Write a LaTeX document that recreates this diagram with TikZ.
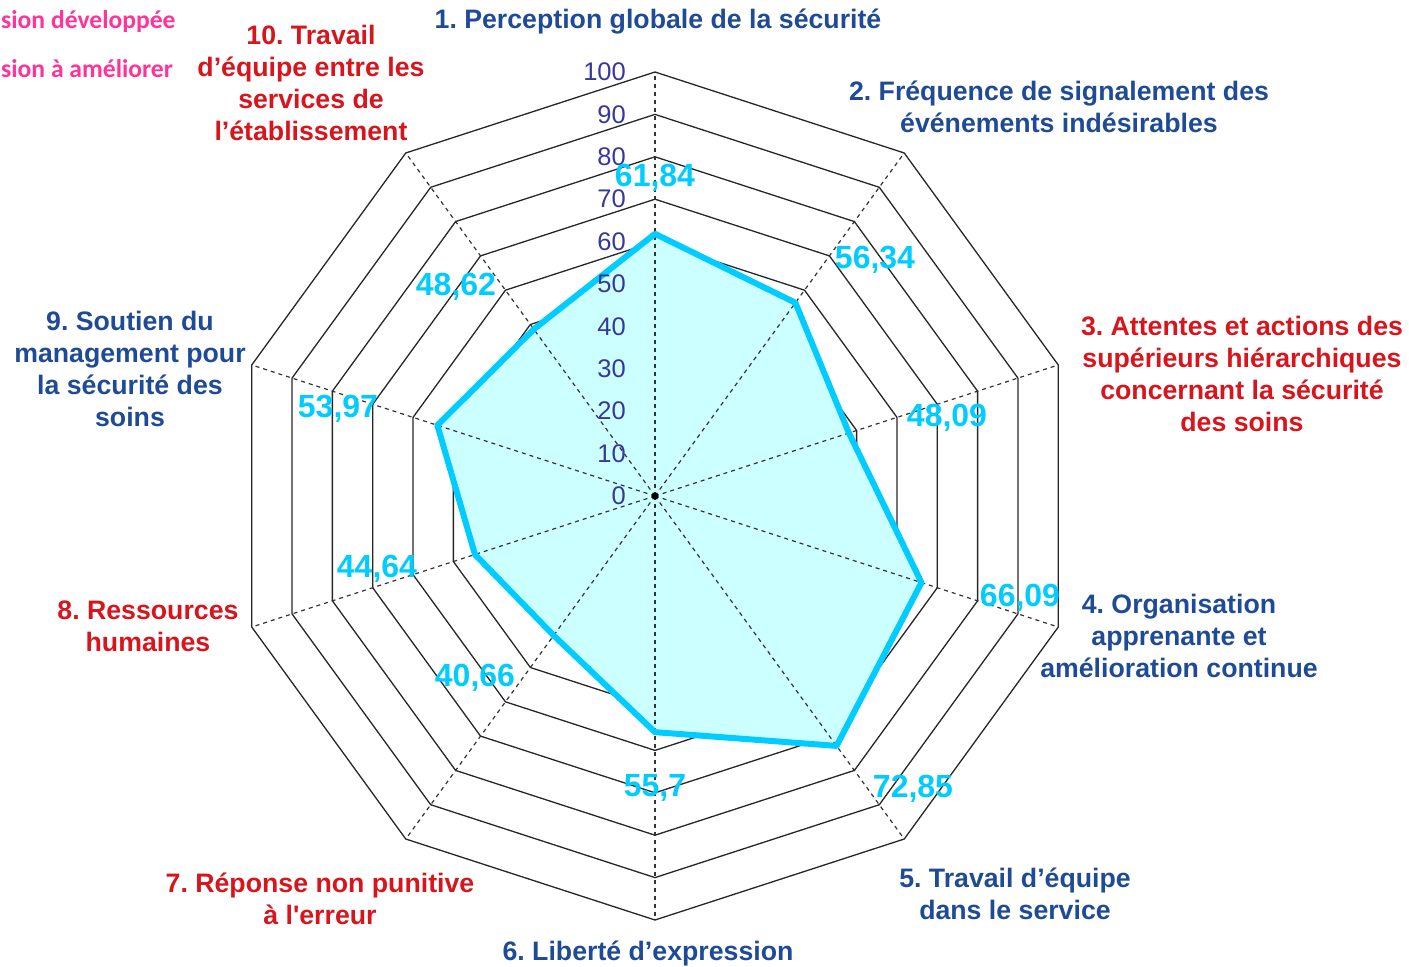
\documentclass[tikz,border=0pt]{standalone}
\usepackage{fontspec}
\setmainfont{Liberation Sans}
\newfontfamily\legendfont{Carlito}
\definecolor{dimblue}{HTML}{1F4B96}
\definecolor{dimred}{HTML}{D8141C}
\definecolor{scorecyan}{HTML}{00CCFF}
\definecolor{scorefill}{HTML}{CCFFFF}
\definecolor{tickblue}{HTML}{38389A}
\definecolor{legendpink}{HTML}{FF3399}
\frenchspacing

\begin{document}
\begin{tikzpicture}[x=1pt,y=1pt,
    ring/.style={draw=black!85,line width=1.3},
    spoke/.style={draw=black!80,line width=1.2,dash pattern=on 4pt off 4pt},
    scoreline/.style={draw=scorecyan,line width=6,line join=round},
    tick/.style={anchor=east,inner sep=0,text=tickblue,font=\fontsize{25.5}{28}\selectfont},
    score/.style={inner sep=0,text=scorecyan,font=\fontsize{32}{36}\selectfont\bfseries},
    dim/.style={inner sep=0,align=center,font=\fontsize{26.7}{32}\selectfont\bfseries},
    legend/.style={anchor=west,inner sep=0,text=legendpink,font=\fontsize{25.6}{30}\legendfont\bfseries}]

  \useasboundingbox (-655,-471) rectangle (754,496);

  \coordinate (c) at (0,0);

  % rings every 10
  \foreach \r in {10,20,...,100}
    \draw[ring] (90:\r*4.24) \foreach \a in {54,18,...,-234} {-- (\a:\r*4.24)} -- cycle;

  % scores
  \foreach \i/\v in {1/61.84,2/56.34,3/48.09,4/66.09,5/72.85,6/55.7,7/40.66,8/44.64,9/53.97,10/48.62}
    \coordinate (p\i) at ({126-36*\i}:{\v*4.24});
  \foreach \i in {1,...,10}
    \coordinate (e\i) at ({126-36*\i}:424);

  \fill[scorefill] (p1) -- (p2) -- (p3) -- (p4) -- (p5) -- (p6) -- (p7) -- (p8) -- (p9) -- (p10) -- cycle;
  \foreach \i in {1,...,10}
    \draw[spoke] (c) -- (e\i);
  \draw[scoreline] (p1) -- (p2) -- (p3) -- (p4) -- (p5) -- (p6) -- (p7) -- (p8) -- (p9) -- (p10) -- cycle;
  \fill (c) circle (3.5);

  \foreach \t in {0,10,...,100}
    \node[tick] (t\t) at (-29,\t*4.24) {\t};

  \begin{scope}[every node/.style={score}]
    \node (v1)  at (0,318)     {61,84};
    \node (v2)  at (220,236)   {56,34};
    \node (v3)  at (292,78)    {48,09};
    \node (v4)  at (365,-102)  {66,09};
    \node (v5)  at (258,-293)  {72,85};
    \node (v6)  at (0,-292)    {55,7};
    \node (v7)  at (-180,-182) {40,66};
    \node (v8)  at (-278,-73)  {44,64};
    \node (v9)  at (-317,87)   {53,97};
    \node (v10) at (-199,209)  {48,62};
  \end{scope}

  \begin{scope}[every node/.style={dim}]
    \node[text=dimblue] (d1)  at (3,474)     {1. Perception globale de la sécurité};
    \node[text=dimblue] (d2)  at (404,389)   {2. Fréquence de signalement des\\événements indésirables};
    \node[text=dimred]  (d3)  at (587,122)   {3. Attentes et actions des\\supérieurs hiérarchiques\\concernant la sécurité\\des soins};
    \node[text=dimblue] (d4)  at (524,-140)  {4. Organisation\\apprenante et\\amélioration continue};
    \node[text=dimblue] (d5)  at (360,-398)  {5. Travail d’équipe\\dans le service};
    \node[text=dimblue] (d6)  at (-7,-457)   {6. Liberté d’expression};
    \node[text=dimred]  (d7)  at (-335,-403) {7. Réponse non punitive\\à l\textquotesingle erreur};
    \node[text=dimred]  (d8)  at (-507,-130) {8. Ressources\\humaines};
    \node[text=dimblue] (d9)  at (-525,127)  {9. Soutien du\\management pour\\la sécurité des\\soins};
    \node[text=dimred]  (d10) at (-344,413)  {10. Travail\\d’équipe entre les\\services de\\l’établissement};
  \end{scope}

  \node[legend] (l1) at (-654,474) {sion développée};
  \node[legend] (l2) at (-654,427) {sion à améliorer};

\end{tikzpicture}
\end{document}
